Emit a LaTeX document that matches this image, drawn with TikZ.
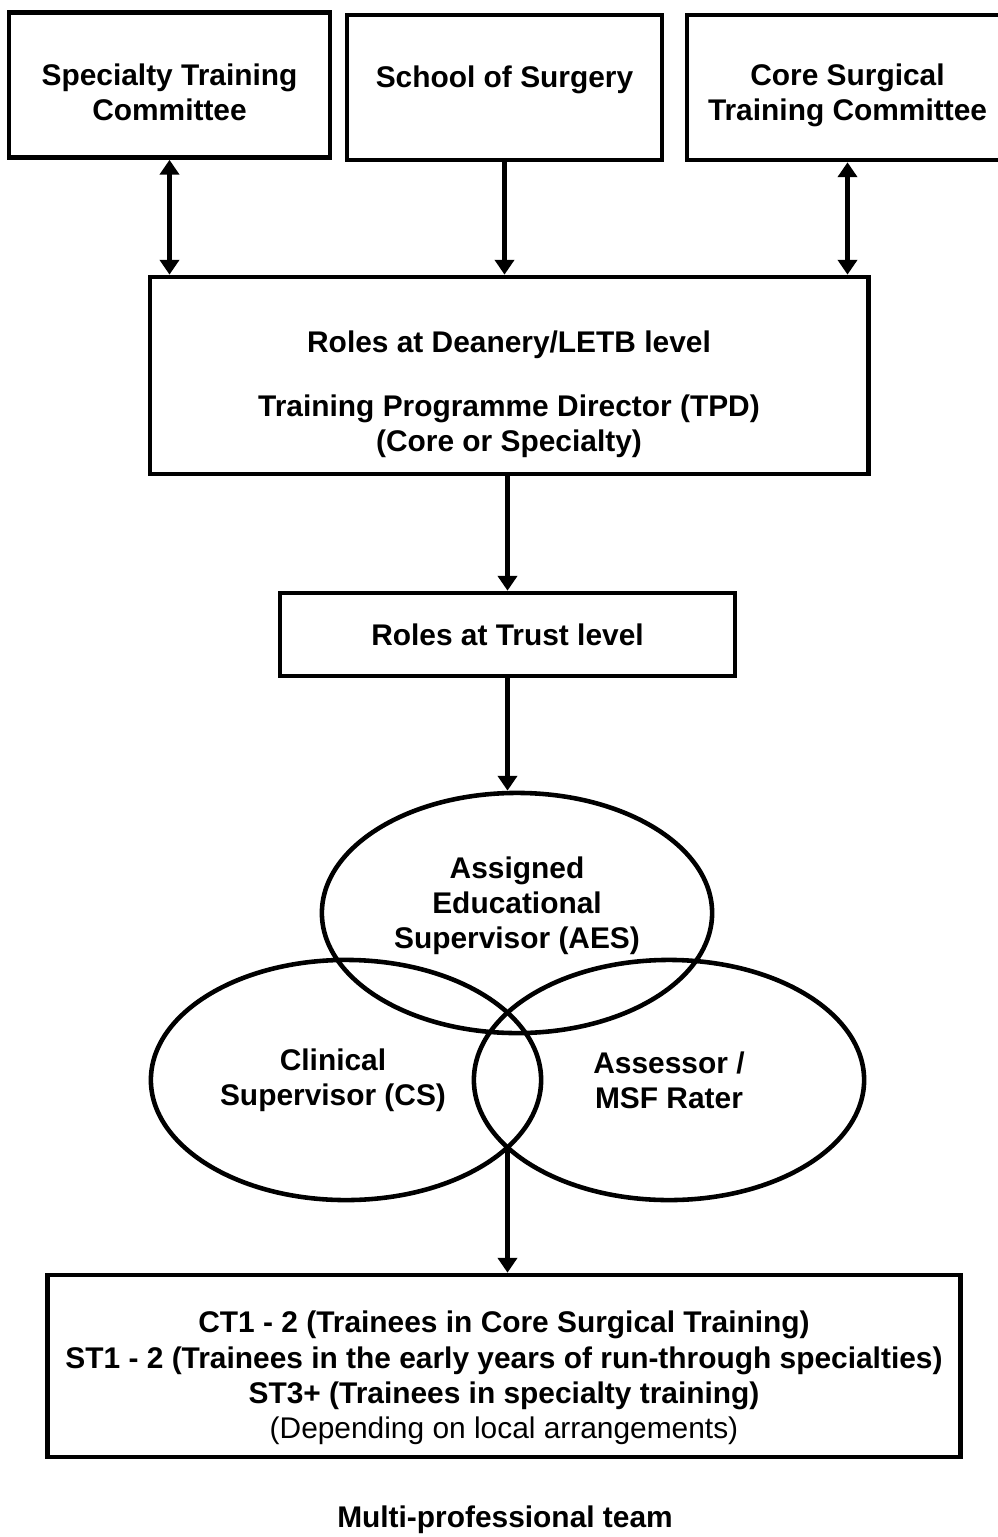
\documentclass[tikz,border=0pt]{standalone}
\usepackage{fontspec}
\setmainfont{Liberation Sans}
\usetikzlibrary{shapes.geometric,arrows.meta}
\begin{document}
\begin{tikzpicture}[x=0.01cm,y=-0.01cm,>={Triangle[length=4.2pt,width=5.4pt]},line width=1.3pt,
  box/.style={draw,rectangle,inner sep=0pt},
  boxtext/.style={align=center,inner sep=0pt,font=\fontsize{8.5}{10}\selectfont\bfseries},
  oval/.style={draw,ellipse,minimum width=3.9cm,minimum height=2.4cm,inner sep=0pt},
  link/.style={line width=1.6pt}]
\useasboundingbox (0,0) rectangle (998,1537);
% committees
\node[box,minimum width=3.21cm,minimum height=1.45cm,label={[boxtext,yshift=-0.075cm]center:Specialty Training\\Committee}] (stc) at (169.5,85) {};
\node[box,minimum width=3.15cm,minimum height=1.45cm,label={[boxtext,yshift=0.075cm]center:School of Surgery}] (school) at (504.5,87.5) {};
\node[box,minimum width=3.21cm,minimum height=1.45cm,label={[boxtext,yshift=-0.08cm]center:Core Surgical\\Training Committee}] (core) at (847.5,87.5) {};
% deanery and trust
\node[box,minimum width=7.18cm,minimum height=1.97cm,label={[boxtext,yshift=-0.19cm]center:Roles at Deanery/LETB level\\[2.9mm]Training Programme Director (TPD)\\(Core or Specialty)}] (letb) at (509,375.5) {};
\node[box,minimum width=4.55cm,minimum height=0.83cm,label={[boxtext]center:Roles at Trust level}] (trust) at (507.5,634.5) {};
% supervisors
\node[oval,label={[boxtext,yshift=0.07cm]center:Assigned\\Educational\\Supervisor (AES)}] (aes) at (517,913) {};
\node[oval,label={[boxtext,xshift=-0.13cm]center:Clinical\\Supervisor (CS)}] (cs) at (346,1080) {};
\node[oval,label={[boxtext]center:Assessor /\\MSF Rater}] (msf) at (669,1080) {};
\coordinate (meet) at (507.5,1147);
% trainees
\node[box,minimum width=9.12cm,minimum height=1.82cm,label={[boxtext,yshift=-0.12cm]center:CT1 - 2 (Trainees in Core Surgical Training)\\ST1 - 2 (Trainees in the early years of run-through specialties)\\ST3+ (Trainees in specialty training)\\{\mdseries (Depending on local arrangements)}}] (team) at (504,1366) {};
\node[boxtext] (teamlabel) at (505,1520) {Multi-professional team};
\draw[link,<->] (stc.south) -- (stc.south |- letb.north);
\draw[link,->] (school.south) -- (school.south |- letb.north);
\draw[link,<->] (core.south) -- (core.south |- letb.north);
\draw[link,->] (trust.north |- letb.south) -- (trust.north);
\draw[link,->] (trust.south) -- (trust.south |- aes.north);
\draw[link,->] (meet) -- (meet |- team.north);
\end{tikzpicture}
\end{document}
